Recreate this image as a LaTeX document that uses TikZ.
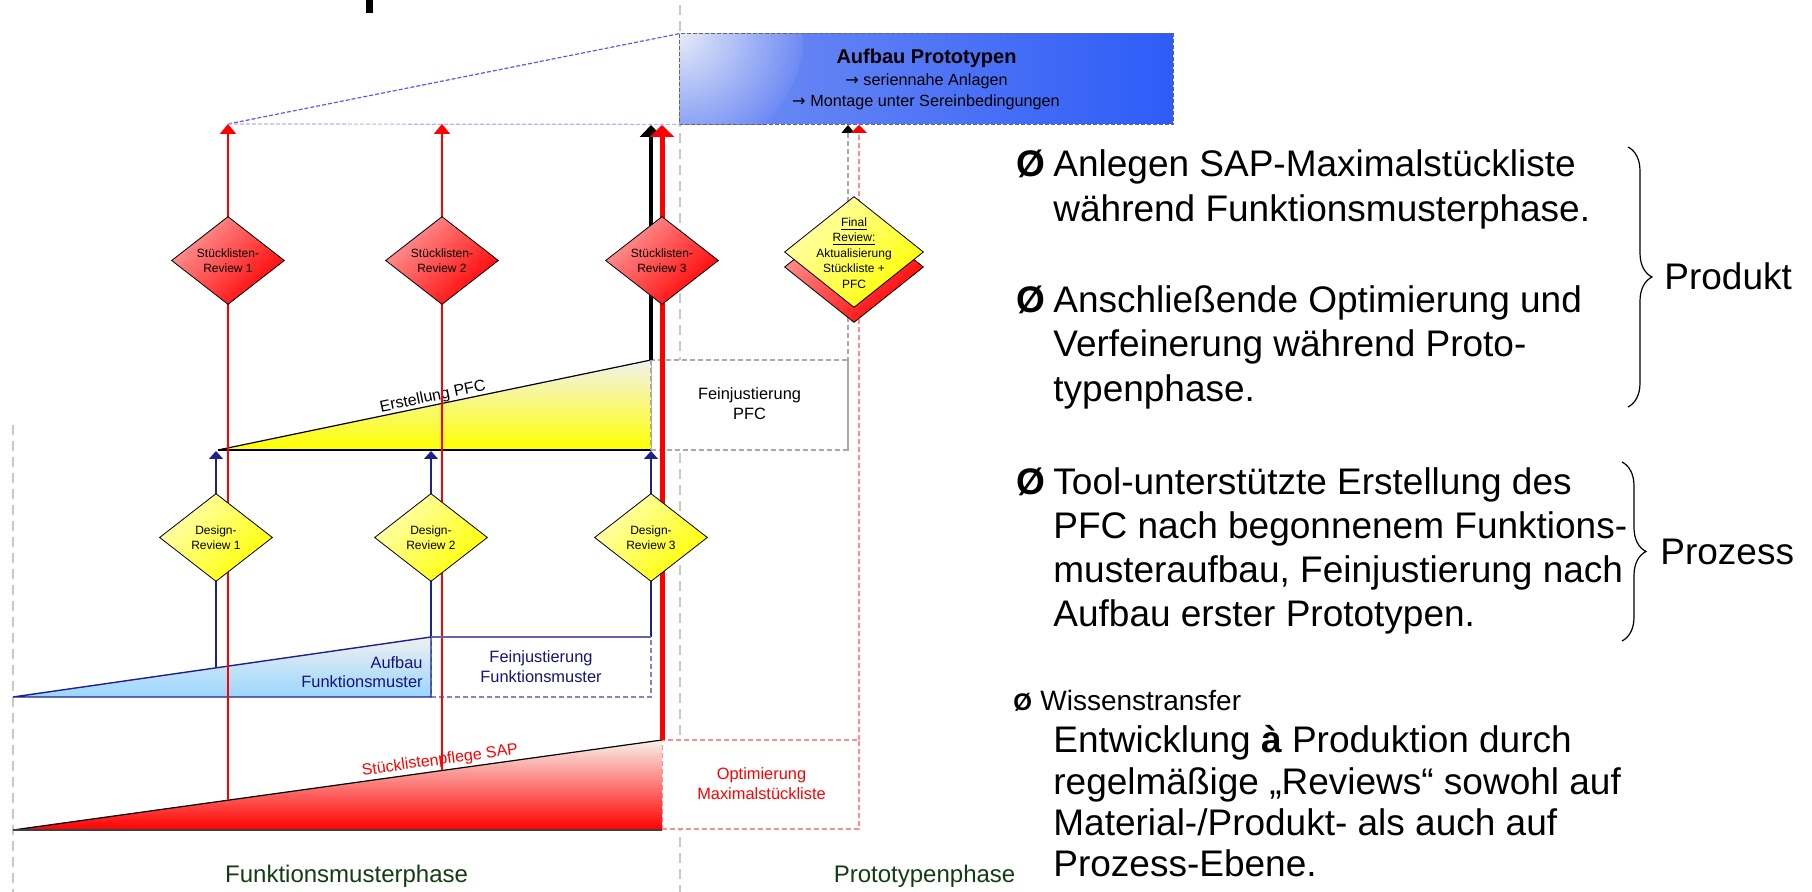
\documentclass[tikz,border=0pt]{standalone}
\usepackage{fontspec}
\setmainfont{Liberation Sans}
\newfontfamily\arrowsym{DejaVu Sans}
\usetikzlibrary{shapes.geometric,arrows.meta,decorations.pathreplacing}

\definecolor{navyline}{HTML}{1F1F8F}
\definecolor{navytext}{HTML}{14147A}
\definecolor{sepgray}{HTML}{C4CCC4}
\definecolor{boxgray}{HTML}{A8A8A8}
\definecolor{optired}{HTML}{FF8C8C}
\definecolor{phasegreen}{HTML}{143C14}
\definecolor{protolight}{HTML}{E6EAF8}
\definecolor{protoleft}{HTML}{7590F3}
\definecolor{protomid}{HTML}{4E72F5}
\definecolor{protodark}{HTML}{2D5CF7}

\begin{document}
\begin{tikzpicture}[x=0.5pt,y=-0.5pt,
  sepline/.style={draw=sepgray,line width=0.8pt,dash pattern=on 5pt off 3pt},
  graydash/.style={draw=boxgray,line width=0.6pt,dash pattern=on 2.5pt off 1.5pt},
  reddash/.style={draw=optired,line width=0.6pt,dash pattern=on 2.5pt off 1.5pt},
  navydash/.style={draw=navyline!55,line width=0.6pt,dash pattern=on 2.5pt off 1.5pt},
  redthin/.style={draw=red,line width=1pt,-{Triangle[width=8pt,length=5pt]}},
  redthick/.style={draw=red,line width=2.5pt,-{Triangle[width=12pt,length=6pt]}},
  blackthick/.style={draw=black,line width=2.2pt,-{Triangle[width=11pt,length=6pt]}},
  navyarrow/.style={draw=navyline,line width=0.7pt,-{Triangle[width=7pt,length=4pt]}},
  reddia/.style={diamond,draw=black,line width=0.4pt,inner sep=0pt,
    minimum width=56.5pt,minimum height=44pt,shade,
    top color=red!40!white,middle color=red!72!white,bottom color=red,shading angle=45},
  yeldia/.style={diamond,draw=black,line width=0.4pt,inner sep=0pt,
    minimum width=56.5pt,minimum height=44pt,shade,
    top color=yellow!30!white,middle color=yellow!75!white,bottom color=yellow,shading angle=45},
  diatext/.style={align=center,inner sep=0pt,font=\fontsize{6}{7.5}\selectfont},
  midtext/.style={align=center,inner sep=0pt,font=\fontsize{8.2}{10}\selectfont},
  fbox/.style={rectangle,fill=white,inner sep=0pt},
  bodytext/.style={anchor=base west,inner sep=0pt,font=\fontsize{18.5}{22}\selectfont},
  bullet/.style={anchor=base west,inner sep=0pt,font=\fontsize{18.5}{22}\selectfont\bfseries},
]
\useasboundingbox (0,0) rectangle (1812,892);

% remnant of the heading above the drawing area
\fill[black] (366,0) rectangle (373,13);

% phase separators
\draw[sepline] (680,5) -- (680,892);
\draw[sepline] (13,425) -- (13,892);

% prototype build box: blue body, soft light upper left corner, dashed frame
\node[rectangle,inner sep=0pt,minimum width=246.5pt,minimum height=45pt,
  shade,left color=protoleft,middle color=protomid,right color=protodark] (proto) at (926.5,79) {};
\begin{scope}
  \clip (proto.north west) rectangle (proto.south east);
  \shade[inner color=protolight,outer color=protoleft!80!protomid] (proto.north west) circle (62pt);
\end{scope}
\draw[black!60,line width=0.5pt,dash pattern=on 2pt off 1pt] (proto.north west) rectangle (proto.south east);
\node[anchor=base,inner sep=0pt,font=\fontsize{10}{12}\selectfont\bfseries] (protoT) at (926.5,64) {Aufbau Prototypen};
\node[anchor=base,inner sep=0pt,font=\fontsize{8.1}{10}\selectfont] (protoA) at (926.5,85.7) {{\arrowsym →} seriennahe Anlagen};
\node[anchor=base,inner sep=0pt,font=\fontsize{8.1}{10}\selectfont] (protoB) at (926,107) {{\arrowsym →} Montage unter Sereinbedingungen};

\coordinate (r1top) at (228,124);
\coordinate (r2top) at (442,124);
\coordinate (r3top) at (662,125);
\coordinate (b3top) at (651,125);
\draw[draw=blue!65,line width=0.6pt,dash pattern=on 2pt off 1pt] (r1top) -- (proto.north west);
\draw[draw=blue!30,line width=0.6pt,dash pattern=on 2pt off 1pt] (r1top) -- (proto.south west);

% white boxes for the fine-tuning phases
\node[fbox,minimum width=98.5pt,minimum height=45pt,graydash] (pfcbox) at (749.5,405) {};
\node[midtext] (pfctext) at (749.5,404) {Feinjustierung\\PFC};
\node[fbox,minimum width=98.5pt,minimum height=44.5pt,reddash] (optbox) at (760.5,784.5) {};
\node[midtext,text=red] (opttext) at (761.5,784) {Optimierung\\Maximalstückliste};
\node[fbox,minimum width=110pt,minimum height=30pt,navydash] (fmbox) at (541,667) {};
\node[midtext,text=navytext] (fmtext) at (541,667) {Feinjustierung\\Funktionsmuster};

% ramp: parts list maintenance (red)
\coordinate (rtL) at (13,830);
\coordinate (rtA) at (662,740);
\coordinate (rtB) at (662,830);
\shade[top color=red!8!brown!10!white,middle color=red!50!white,bottom color=red] (rtL) -- (rtA) -- (rtB) -- cycle;
\draw[black,line width=0.6pt] (rtL) -- (rtA);
\draw[black!75,line width=0.8pt] (rtL) -- (rtB);
\path (rtL) -- (rtA) node[pos=0.66,sloped,anchor=base,yshift=3pt,inner sep=0pt,
  text=red,font=\fontsize{8}{10}\selectfont] (sapl) {Stücklistenpflege SAP};

% ramp: PFC creation (yellow)
\coordinate (ytL) at (218,450);
\coordinate (ytA) at (651,360);
\coordinate (ytB) at (651,450);
\shade[top color=yellow!12!gray!12!white,middle color=yellow!45!white,bottom color=yellow] (ytL) -- (ytA) -- (ytB) -- cycle;
\draw[black,line width=0.6pt] (ytL) -- (ytA);
\draw[black,line width=0.7pt] (ytL) -- (ytB);
\draw[graydash] (ytA) -- (ytB);
\path (ytL) -- (ytA) node[pos=0.5,sloped,anchor=base,yshift=2pt,inner sep=0pt,
  font=\fontsize{8}{10}\selectfont] (pfcl) {Erstellung PFC};

% ramp: functional model build (blue)
\coordinate (btL) at (13,697);
\coordinate (btA) at (431,637);
\coordinate (btB) at (431,697);
\shade[top color=gray!12!white,bottom color=blue!40!cyan!40!white] (btL) -- (btA) -- (btB) -- cycle;
\draw[navyline,line width=0.7pt] (btL) -- (btA) -- (btB) -- cycle;
\node[anchor=east,align=right,inner sep=0pt,text=navytext,font=\fontsize{8.2}{9.5}\selectfont] (fmbuild) at (423,672) {Aufbau\\Funktionsmuster};

% milestone lines
\coordinate (r1bot) at (228,800);
\coordinate (r2bot) at (442,770.5);
\draw[redthin] (r1bot) -- (r1top);
\draw[redthin] (r2bot) -- (r2top);
\draw[blackthick] (ytA) -- (b3top);
\draw[redthick] (rtA) -- (r3top);

\coordinate (n1bot) at (216,668);
\coordinate (n1top) at (216,451);
\coordinate (n2top) at (431,451);
\coordinate (n3bot) at (651,637);
\coordinate (n3top) at (651,451);
\draw[navyarrow] (n1bot) -- (n1top);
\draw[navyarrow] (btA) -- (n2top);
\draw[navyarrow] (n3bot) -- (n3top);
\draw[navyline!70,line width=0.6pt] (btA) -- (n3bot);

\coordinate (g4bot) at (848,450);
\coordinate (g4top) at (848,125);
\coordinate (o4bot) at (859,740);
\coordinate (o4top) at (859,125);
\draw[graydash,-{Triangle[width=6.5pt,length=4pt,color=black]}] (g4bot) -- (g4top);
\draw[reddash,-{Triangle[width=8pt,length=4pt,color=red]}] (o4bot) -- (o4top);

% parts list reviews
\node[reddia] (sr1) at (228,260.5) {};
\node[reddia] (sr2) at (442,260.5) {};
\node[reddia] (sr3) at (662,260.5) {};
\node[diatext] (sr1t) at (sr1.center) {Stücklisten-\\Review 1};
\node[diatext] (sr2t) at (sr2.center) {Stücklisten-\\Review 2};
\node[diatext] (sr3t) at (sr3.center) {Stücklisten-\\Review 3};

% design reviews
\node[yeldia] (dr1) at (216,537.5) {};
\node[yeldia] (dr2) at (431,537.5) {};
\node[yeldia] (dr3) at (651,537.5) {};
\node[diatext] (dr1t) at (dr1.center) {Design-\\Review 1};
\node[diatext] (dr2t) at (dr2.center) {Design-\\Review 2};
\node[diatext] (dr3t) at (dr3.center) {Design-\\Review 3};

% final review
\node[reddia,minimum width=69.5pt,minimum height=55.5pt] (frs) at (854,267) {};
\node[yeldia,minimum width=69.5pt,minimum height=55.5pt] (fr) at (854,252) {};
\node[diatext,font=\fontsize{6}{7.75}\selectfont] (frt) at (854,253) {\underline{Final}\\\underline{Review:}\\Aktualisierung\\Stückliste +\\PFC};

% phase names
\node[anchor=base,inner sep=0pt,text=phasegreen,font=\fontsize{12}{14}\selectfont] (ph1) at (346.6,883) {Funktionsmusterphase};
\node[anchor=base,inner sep=0pt,text=phasegreen,font=\fontsize{12}{14}\selectfont] (ph2) at (924.6,883) {Prototypenphase};

% bullet list
\node[bullet] (u1) at (1016,177) {Ø};
\node[bodytext] (t1a) at (1053,177) {Anlegen SAP-Maximalstückliste};
\node[bodytext] (t1b) at (1053,222) {während Funktionsmusterphase.};
\node[bullet] (u2) at (1016,313) {Ø};
\node[bodytext] (t2a) at (1053,313) {Anschließende Optimierung und};
\node[bodytext] (t2b) at (1053,357) {Verfeinerung während Proto-};
\node[bodytext] (t2c) at (1053,402) {typenphase.};
\node[bullet] (u3) at (1016,495) {Ø};
\node[bodytext] (t3a) at (1053,495) {Tool-unterstützte Erstellung des};
\node[bodytext] (t3b) at (1053,539) {PFC nach begonnenem Funktions-};
\node[bodytext] (t3c) at (1053,583) {musteraufbau, Feinjustierung nach};
\node[bodytext] (t3d) at (1053,627) {Aufbau erster Prototypen.};
\node[bullet,font=\fontsize{12}{15}\selectfont\bfseries] (u4) at (1013,711) {Ø};
\node[bodytext,font=\fontsize{14}{17}\selectfont] (t4a) at (1040,711) {Wissenstransfer};
\node[bodytext] (t4b) at (1053,753) {Entwicklung \textbf{à} Produktion durch};
\node[bodytext] (t4c) at (1053,795) {regelmäßige „Reviews“ sowohl auf};
\node[bodytext] (t4d) at (1053,836) {Material-/Produkt- als auch auf};
\node[bodytext] (t4e) at (1053,877) {Prozess-Ebene.};

% grouping braces
\draw[line width=0.6pt,decorate,decoration={brace,amplitude=12pt}] (1628,147) -- (1628,407);
\node[bodytext] (prod) at (1664,290) {Produkt};
\draw[line width=0.6pt,decorate,decoration={brace,amplitude=12pt}] (1622,462) -- (1622,641);
\node[bodytext] (proz) at (1660,565) {Prozess};
\end{tikzpicture}
\end{document}
